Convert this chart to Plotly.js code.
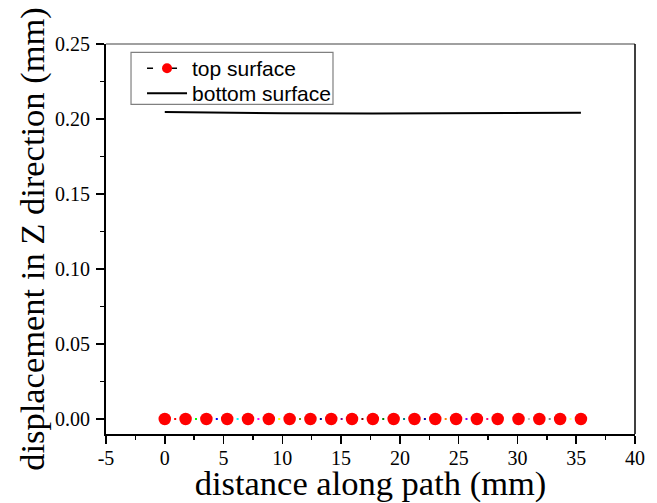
<!DOCTYPE html>
<html>
<head>
<meta charset="utf-8">
<script src="https://cdn.plot.ly/plotly-3.0.1.min.js"></script>
<style>
  html, body { margin: 0; padding: 0; background: #fff; }
  #chart { width: 657px; height: 503px; }
</style>
</head>
<body>
<div id="chart"></div>
<script>
// Distance along the path (mm) for the top-surface sample points
const topX = [0, 1.77, 3.54, 5.31, 7.08, 8.85, 10.62, 12.39, 14.16, 15.93, 17.70,
              19.47, 21.24, 23.01, 24.78, 26.55, 28.32, 30.09, 31.86, 33.63, 35.40];
// Z displacement of the top surface (mm)
const topY = [0, 0, 0, 0, 0, 0, 0, 0, 0, 0, 0,
              0, 0, 0, 0, 0, 0, 0, 0, 0, 0];

// Bottom surface profile (mm)
const bottomX = [0, 5, 10, 17.7, 25, 30, 35.4];
const bottomY = [0.2046, 0.2041, 0.2038, 0.2036, 0.2037, 0.2039, 0.2041];

// Per-segment colours of the connecting dotted line
const segColors = ['#FF0000', '#00FF00', '#0000FF', '#00FFFF', '#FF00FF', '#FFFF00',
                   '#808000', '#000080', '#800080', '#800000', '#008000', '#008080',
                   '#0000A0', '#FF8000', '#8000FF', '#FF0080', '#FFFFFF', '#C0C0C0',
                   '#808080', '#FFFF80'];

// Axis ticks
const xTickVals = [-5, 0, 5, 10, 15, 20, 25, 30, 35, 40];
const xTickText = ['-5', '0', '5', '10', '15', '20', '25', '30', '35', '40'];

const seriesNames = ['top surface', 'bottom surface'];

const traces = [];

// connecting dots between consecutive markers, one colour per segment
for (let i = 0; i < topX.length - 1; i++) {
  traces.push({
    x: [topX[i], topX[i + 1]],
    y: [topY[i], topY[i + 1]],
    mode: 'lines',
    line: { color: segColors[i % segColors.length], width: 2, dash: '0px,9.4px,2px,100px' },
    showlegend: false,
    hoverinfo: 'skip'
  });
}

// top surface markers
traces.push({
  x: topX, y: topY,
  mode: 'markers',
  marker: { color: '#FF0000', size: 12.5, symbol: 'circle' },
  showlegend: false,
  name: seriesNames[0]
});

// legend entry for the top surface (dashed line with a round marker)
traces.push({
  x: [null], y: [null],
  mode: 'lines+markers',
  name: seriesNames[0],
  legend: 'legend',
  line: { color: '#000000', width: 1.5, dash: '6px,18px' },
  marker: { color: '#FF0000', size: 10 }
});

// bottom surface
traces.push({
  x: bottomX, y: bottomY,
  mode: 'lines',
  name: seriesNames[1],
  legend: 'legend2',
  line: { color: '#000000', width: 2 }
});

const serif = '"Liberation Serif", "Times New Roman", serif';
const sans = '"Liberation Sans", Arial, sans-serif';

const legendCommon = {
  xanchor: 'left', yanchor: 'top',
  bgcolor: 'rgba(0,0,0,0)', borderwidth: 0,
  font: { family: sans, size: 21, color: '#000' },
  tracegroupgap: 0,
  itemwidth: 40
};

const layout = {
  width: 657,
  height: 503,
  margin: { l: 106, r: 22, t: 44, b: 69 },
  paper_bgcolor: '#ffffff',
  plot_bgcolor: '#ffffff',
  font: { family: serif, size: 20, color: '#000' },
  showlegend: true,
  xaxis: {
    range: [-5, 40],
    tickmode: 'array', tickvals: xTickVals, ticktext: xTickText,
    ticks: 'outside', ticklen: 8, tickwidth: 1.5, tickcolor: '#000',
    minor: { dtick: 2.5, ticks: 'outside', ticklen: 4, tickwidth: 1.5, tickcolor: '#000' },
    showline: true, linecolor: '#000', linewidth: 2,
    showgrid: false, zeroline: false,
    tickfont: { family: serif, size: 20, color: '#000' },
    ticklabelstandoff: -3,
    title: { text: 'distance along path (mm)', font: { family: serif, size: 34.5, color: '#000' }, standoff: 5 }
  },
  yaxis: {
    range: [-0.01, 0.25],
    tick0: 0, dtick: 0.05, tickformat: '.2f',
    ticks: 'outside', ticklen: 8, tickwidth: 1.5, tickcolor: '#000',
    minor: { dtick: 0.025, ticks: 'outside', ticklen: 4, tickwidth: 1.5, tickcolor: '#000' },
    showline: true, linecolor: '#000', linewidth: 2,
    showgrid: false, zeroline: false,
    tickfont: { family: serif, size: 20, color: '#000' },
    ticklabelstandoff: 2,
    title: { text: 'displacement in Z direction (mm)', font: { family: serif, size: 34.5, color: '#000' }, standoff: 0 }
  },
  legend: Object.assign({}, legendCommon, { x: 0.0681, y: 0.9897 }),
  legend2: Object.assign({}, legendCommon, { x: 0.0681, y: 0.9256 }),
  shapes: [
    // top frame line
    { type: 'line', xref: 'paper', yref: 'paper', x0: 0, x1: 1, y0: 1, y1: 1,
      line: { color: '#808080', width: 1.5 } },
    // right frame line
    { type: 'line', xref: 'paper', yref: 'paper', x0: 1, x1: 1, y0: 0, y1: 1,
      line: { color: '#000000', width: 1.5 } },
    // legend frame
    { type: 'rect', xref: 'paper', yref: 'paper', x0: 0.0473, x1: 0.4291, y0: 0.8454, y1: 0.9787,
      line: { color: '#808080', width: 1.2 }, fillcolor: 'rgba(0,0,0,0)', layer: 'above' }
  ]
};

Plotly.newPlot('chart', traces, layout, { staticPlot: true, displayModeBar: false });
</script>
</body>
</html>
